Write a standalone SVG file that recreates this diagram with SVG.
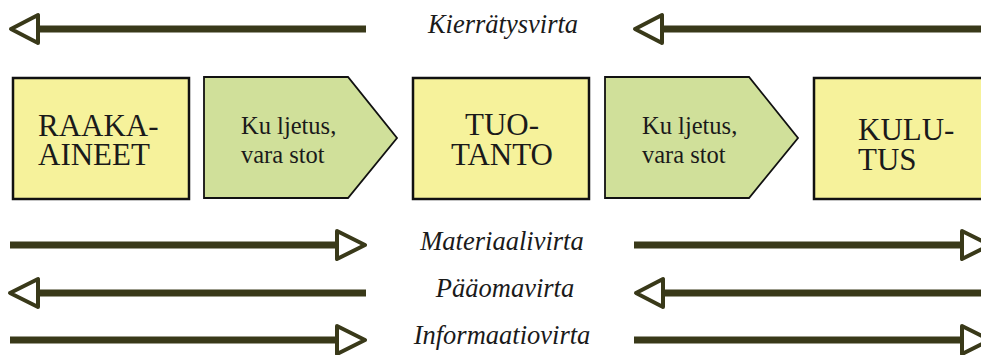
<svg xmlns="http://www.w3.org/2000/svg" width="981" height="355" viewBox="0 0 981 355">
<style>
.bg{fill:#ffffff}
.box{fill:#f6f29b;stroke:#111111;stroke-width:2.5}
.pent{fill:#d0e09a;stroke:#111111;stroke-width:1.8}
.big{font-family:"Liberation Serif",serif;font-size:31px;fill:#1a1a1a}
.small{font-family:"Liberation Serif",serif;font-size:24.5px;fill:#1a1a1a}
.lab{font-family:"Liberation Serif",serif;font-size:26.5px;font-style:italic;fill:#1a1a1a;text-anchor:middle}
.shaft{stroke:#393919;stroke-width:7;fill:none}
.head{fill:#ffffff;stroke:#393919;stroke-width:4;stroke-linejoin:round}
</style>
<rect class="bg" x="0" y="0" width="981" height="355"/>
<g id="node-raaka-aineet">
<rect class="box" x="13" y="78" width="176" height="121"/>
<text class="big" x="38" y="136">RAAKA-</text>
<text class="big" x="38" y="165">AINEET</text>
</g>
<g id="node-kuljetus-1">
<polygon class="pent" points="204,77 348,77 397,138 348,198 204,198"/>
<text class="small" x="241" y="134">Ku ljetus,</text>
<text class="small" x="241" y="163">vara stot</text>
</g>
<g id="node-tuotanto">
<rect class="box" x="413" y="78" width="176" height="121"/>
<text class="big" x="502" y="135" text-anchor="middle">TUO-</text>
<text class="big" x="502" y="165" text-anchor="middle">TANTO</text>
</g>
<g id="node-kuljetus-2">
<polygon class="pent" points="605,77 749,77 798,138 749,198 605,198"/>
<text class="small" x="642" y="134">Ku ljetus,</text>
<text class="small" x="642" y="163">vara stot</text>
</g>
<g id="node-kulutus">
<rect class="box" x="814" y="78" width="176" height="121"/>
<text class="big" x="858" y="140">KULU-</text>
<text class="big" x="858" y="170">TUS</text>
</g>
<g id="connectors">
<line class="shaft" x1="38" y1="29" x2="366" y2="29"/>
<polygon class="head" points="11,29 38,15 38,43"/>
<line class="shaft" x1="662" y1="29" x2="990" y2="29"/>
<polygon class="head" points="635,29 662,15 662,43"/>
<line class="shaft" x1="10" y1="245" x2="337" y2="245"/>
<polygon class="head" points="337,231 365,245 337,259"/>
<line class="shaft" x1="634" y1="245" x2="962" y2="245"/>
<polygon class="head" points="962,231 990,245 962,259"/>
<line class="shaft" x1="38" y1="293" x2="366" y2="293"/>
<polygon class="head" points="10,293 38,279 38,307"/>
<line class="shaft" x1="663" y1="293" x2="990" y2="293"/>
<polygon class="head" points="636,293 663,279 663,307"/>
<line class="shaft" x1="10" y1="340" x2="337" y2="340"/>
<polygon class="head" points="337,326 365,340 337,354"/>
<line class="shaft" x1="634" y1="340" x2="962" y2="340"/>
<polygon class="head" points="962,326 990,340 962,354"/>
</g>
<g id="labels">
<text class="lab" x="503" y="33">Kierrätysvirta</text>
<text class="lab" x="502" y="250">Materiaalivirta</text>
<text class="lab" x="505" y="297">Pääomavirta</text>
<text class="lab" x="502" y="344">Informaatiovirta</text>
</g>
</svg>
